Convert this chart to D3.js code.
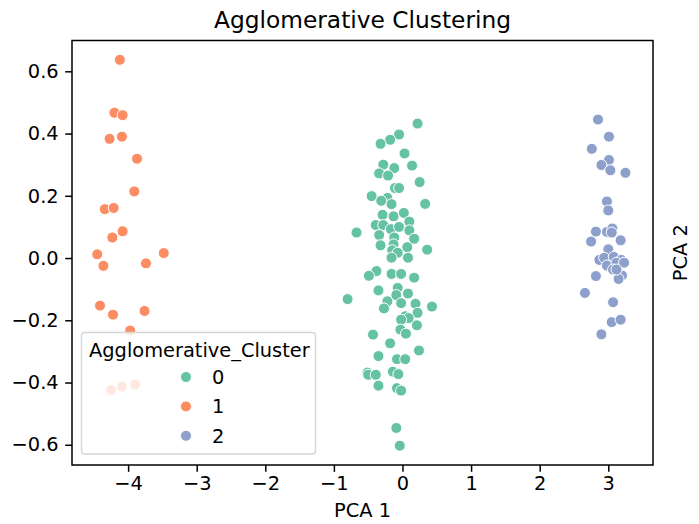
<!DOCTYPE html>
<html>
<head>
<meta charset="utf-8">
<script src="https://cdn.jsdelivr.net/npm/d3@7"></script>
<style>
  body { margin: 0; background: #fff; }
  svg { font-family: "DejaVu Sans", sans-serif; }
</style>
</head>
<body>
<div id="chart"></div>
<script>
// Cluster 0 (green)
const pca1_c0 = [0.22, -0.05, -0.18, -0.32, 0.03, -0.28, -0.12, 0.14, -0.34, -0.21, 0.25, -0.11, -0.05, -0.45, -0.22, -0.31, 0.33, -0.16, -0.29, -0.13, 0.02, 0.10, -0.39, -0.28, -0.67, -0.34, -0.17, -0.05, 0.10, -0.12, 0.17, -0.32, -0.13, 0.07, 0.36, -0.15, -0.07, -0.16, 0.08, -0.38, -0.49, -0.16, -0.02, 0.17, -0.80, -0.35, -0.07, 0.08, -0.22, -0.27, -0.09, -0.02, 0.19, 0.22, 0.43, 0.04, 0.09, -0.02, 0.21, -0.03, 0.05, -0.43, -0.18, 0.24, -0.35, -0.08, 0.04, -0.51, -0.50, -0.39, -0.14, -0.06, -0.35, -0.08, -0.02, -0.09, -0.04];
const pca2_c0 = [0.432, 0.397, 0.380, 0.367, 0.336, 0.300, 0.289, 0.297, 0.272, 0.265, 0.244, 0.225, 0.225, 0.199, 0.193, 0.184, 0.174, 0.173, 0.139, 0.134, 0.145, 0.117, 0.106, 0.106, 0.082, 0.074, 0.093, 0.100, 0.089, 0.066, 0.062, 0.041, 0.044, 0.035, 0.027, 0.025, 0.017, 0.001, 0.001, -0.042, -0.057, -0.051, -0.051, -0.063, -0.132, -0.104, -0.096, -0.114, -0.139, -0.162, -0.119, -0.145, -0.147, -0.176, -0.156, -0.187, -0.193, -0.198, -0.216, -0.230, -0.243, -0.246, -0.274, -0.297, -0.315, -0.325, -0.325, -0.368, -0.375, -0.375, -0.365, -0.373, -0.410, -0.418, -0.426, -0.546, -0.603];

// Cluster 1 (orange)
const pca1_c1 = [-4.12, -4.20, -4.08, -4.27, -4.09, -3.87, -3.91, -4.34, -4.21, -4.23, -4.08, -4.45, -4.36, -3.74, -3.48, -4.41, -4.22, -3.76, -3.97, -4.25, -4.09, -3.90];
const pca2_c1 = [0.637, 0.467, 0.459, 0.383, 0.390, 0.319, 0.214, 0.157, 0.161, 0.066, 0.086, 0.012, -0.025, -0.017, 0.016, -0.153, -0.182, -0.170, -0.233, -0.424, -0.413, -0.406];

// Cluster 2 (blue)
const pca1_c2 = [2.85, 3.01, 2.76, 3.01, 2.90, 3.03, 3.25, 2.98, 3.00, 2.82, 2.98, 3.06, 3.05, 2.75, 3.18, 3.00, 2.87, 2.94, 3.08, 3.19, 2.98, 3.12, 3.23, 3.07, 3.20, 3.15, 2.82, 2.66, 3.07, 3.05, 3.18, 2.90, 3.12];
const pca2_c2 = [0.445, 0.390, 0.351, 0.315, 0.299, 0.282, 0.274, 0.182, 0.153, 0.085, 0.084, 0.095, 0.082, 0.053, 0.057, 0.028, -0.006, 0.001, 0.004, -0.006, -0.024, -0.015, -0.015, -0.037, -0.056, -0.067, -0.058, -0.112, -0.142, -0.206, -0.198, -0.245, -0.037];

const clusters = ["0", "1", "2"];
const colors = ["#66c2a5", "#fc8d62", "#8da0cb"];
const xTicks = [-4, -3, -2, -1, 0, 1, 2, 3];
const yTicks = [-0.6, -0.4, -0.2, 0.0, 0.2, 0.4, 0.6];

const width = 699, height = 524;
const margin = { left: 72, right: 653, top: 40.5, bottom: 465 };
const fontSize = 19.4, titleSize = 23.3;

const svg = d3.select('#chart').append('svg')
    .attr('width', width)
    .attr('height', height);

const x = d3.scaleLinear().domain([-4.818, 3.652]).range([margin.left, margin.right]);
const y = d3.scaleLinear().domain([-0.665, 0.699]).range([margin.bottom, margin.top]);

// Build points from the arrays
const points = [];
[[pca1_c0, pca2_c0], [pca1_c1, pca2_c1], [pca1_c2, pca2_c2]].forEach(([xs, ys], c) => {
    xs.forEach((v, i) => points.push({ x: v, y: ys[i], c: c }));
});

svg.append('g').selectAll('circle')
    .data(points)
    .enter()
    .append('circle')
    .attr('cx', d => x(d.x))
    .attr('cy', d => y(d.y))
    .attr('r', 5.5)
    .attr('fill', d => colors[d.c])
    .attr('stroke', '#fff')
    .attr('stroke-width', 1);

// Axes
const xAxis = svg.append('g')
    .attr('transform', `translate(0,${margin.bottom})`)
    .call(d3.axisBottom(x).tickValues(xTicks).tickSize(6.8).tickPadding(4)
        .tickFormat(d => d < 0 ? '\u2212' + Math.abs(d) : d));
const yAxis = svg.append('g')
    .attr('transform', `translate(${margin.left},0)`)
    .call(d3.axisLeft(y).tickValues(yTicks).tickSize(6.8).tickPadding(6.5)
        .tickFormat(d => (d < 0 ? '\u2212' : '') + Math.abs(d).toFixed(1)));

[xAxis, yAxis].forEach(a => {
    a.select('.domain').remove();
    a.selectAll('line').attr('stroke', '#000').attr('stroke-width', 1.5);
    a.selectAll('text').attr('font-size', fontSize).attr('fill', '#000')
        .style('font-family', '"DejaVu Sans", sans-serif');
});

// Frame
svg.append('rect')
    .attr('x', margin.left).attr('y', margin.top)
    .attr('width', margin.right - margin.left).attr('height', margin.bottom - margin.top)
    .attr('fill', 'none')
    .attr('stroke', '#000')
    .attr('stroke-width', 1.5);

// Titles
svg.append('text')
    .attr('x', (margin.left + margin.right) / 2).attr('y', 27.5)
    .attr('text-anchor', 'middle')
    .attr('font-size', titleSize)
    .attr('fill', '#000')
    .text('Agglomerative Clustering');

svg.append('text')
    .attr('x', (margin.left + margin.right) / 2).attr('y', 517)
    .attr('text-anchor', 'middle')
    .attr('font-size', fontSize)
    .attr('fill', '#000')
    .text('PCA 1');

svg.append('text')
    .attr('transform', `translate(687,${(margin.top + margin.bottom) / 2}) rotate(-90)`)
    .attr('text-anchor', 'middle')
    .attr('font-size', fontSize)
    .attr('fill', '#000')
    .text('PCA 2');

// Legend
const legend = svg.append('g');
legend.append('rect')
    .attr('x', 81.5).attr('y', 332.5)
    .attr('width', 234).attr('height', 121.5)
    .attr('rx', 3)
    .attr('fill', '#fff')
    .attr('fill-opacity', 0.8)
    .attr('stroke', '#d6d6d6')
    .attr('stroke-width', 1.4);

legend.append('text')
    .attr('x', 89).attr('y', 357)
    .attr('font-size', fontSize)
    .attr('fill', '#000')
    .text('Agglomerative_Cluster');

clusters.forEach((c, i) => {
    const ly = 377 + i * 29.4;
    legend.append('circle')
        .attr('cx', 186).attr('cy', ly).attr('r', 5.5)
        .attr('fill', colors[i])
        .attr('stroke', '#fff').attr('stroke-width', 1);
    legend.append('text')
        .attr('x', 212).attr('y', ly + 7)
        .attr('font-size', fontSize)
        .attr('fill', '#000')
        .text(c);
});
</script>
</body>
</html>
